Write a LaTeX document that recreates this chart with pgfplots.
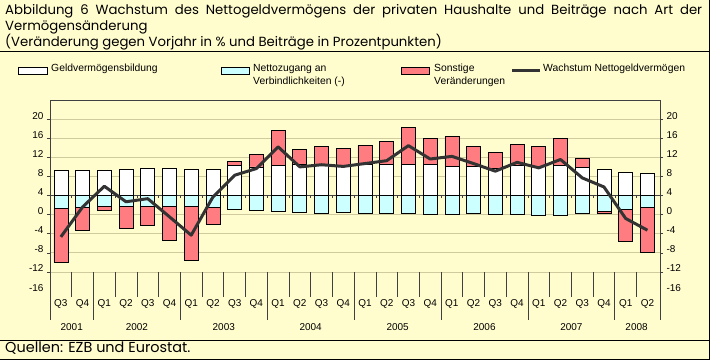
\documentclass[border=0pt]{standalone}
\usepackage{pgfplots}
\usepackage{pgfplotstable}
\pgfplotsset{compat=1.18}
\usepackage{fontspec}
\setmainfont{Liberation Sans}
\newfontfamily\titlefont{Poppins}
\definecolor{bg}{RGB}{255,253,206}
\definecolor{gridc}{RGB}{208,203,158}
\definecolor{redb}{RGB}{255,124,128}
\definecolor{cyanb}{RGB}{204,255,255}
\definecolor{lineg}{RGB}{51,51,51}
\definecolor{axisg}{RGB}{64,64,64}

% base = invisible offset; rn = Sonstige (negativ); cy = Nettozugang an Verbindlichkeiten (-);
% wh = Geldvermoegensbildung; rp = Sonstige (positiv); line = Wachstum
\pgfplotstableread{
i base rn cy wh rp line
0 -14.0 11.3 2.7 5.2 0 -8.65
1 -7.3 4.8 2.5 5.2 0 -2.4
2 -3.15 0.9 2.25 5.2 0 1.95
3 -6.9 4.6 2.3 5.45 0 -1.3
4 -6.3 4.0 2.3 5.65 0 -0.65
5 -9.4 7.1 2.3 5.65 0 -4.45
6 -13.6 11.3 2.3 5.45 0 -8.3
7 -6.05 3.55 2.5 5.45 0 -0.3
8 -2.95 0 2.95 6.25 0.85 4.25
9 -3.15 0 3.15 6.0 2.6 5.65
10 -3.35 0 3.35 6.25 7.35 10.2
11 -3.55 0 3.55 6.45 3.15 6.0
12 -3.75 0 3.75 6.4 3.85 6.45
13 -3.55 0 3.55 6.3 3.5 6.1
14 -3.75 0 3.75 6.45 4.05 6.7
15 -3.75 0 3.75 6.45 4.85 7.3
16 -3.75 0 3.75 6.45 7.75 10.45
17 -3.95 0 3.95 6.45 5.45 7.65
18 -3.95 0 3.95 6.05 6.25 8.2
19 -3.75 0 3.75 6.05 4.2 6.7
20 -3.95 0 3.95 5.65 3.35 5.1
21 -3.95 0 3.95 6.25 4.45 6.95
22 -4.2 0 4.2 6.05 4.2 5.8
23 -4.2 0 4.2 6.25 5.65 7.55
24 -3.75 0 3.75 5.85 1.9 3.7
25 -3.75 0.4 3.35 5.45 0 1.8
26 -9.65 6.7 2.95 4.8 0 -4.8
27 -11.9 9.4 2.5 4.6 0 -7.25
}\data

\pgfplotsset{
  common/.style={
    at={(50bp,88bp)}, anchor=south west, scale only axis,
    width=610bp, height=172bp,
    xmin=-0.5, xmax=27.58, ymin=-16, ymax=20,
    axis line style={draw=none},
    ytick={-16,-12,...,16},
    yticklabels={-12,-8,-4,0,4,8,12,16,20},
    tick align=outside, major tick length=3bp,
    tick style={axisg, line width=0.6bp},
    ticklabel style={font=\fontsize{10}{12}\selectfont},
    yticklabel style={yshift=3.5bp},
    /pgf/number format/assume math mode=true,
    clip=false,
  }
}

\begin{document}
\begin{tikzpicture}
\useasboundingbox (0,0) rectangle (710bp,360bp);
\fill[bg] (0,0) rectangle (710bp,360bp);

\begin{axis}[common,
  ybar stacked, stack negative=on previous, bar width=14bp,
  ytick pos=left,
  ymajorgrids, grid style={gridc, line width=0.8bp},
  xtick={0,...,27},
  xticklabels={Q3,Q4,Q1,Q2,Q3,Q4,Q1,Q2,Q3,Q4,Q1,Q2,Q3,Q4,Q1,Q2,Q3,Q4,Q1,Q2,Q3,Q4,Q1,Q2,Q3,Q4,Q1,Q2},
  x tick style={draw=none},
  xticklabel style={anchor=base, yshift=-32bp},
]
\addplot[draw=none, fill=none] table[x=i,y=base]{\data};
\addplot[fill=redb, draw=black, line width=0.7bp] table[x=i,y=rn]{\data};
\addplot[fill=cyanb, draw=black, line width=0.7bp] table[x=i,y=cy]{\data};
\addplot[fill=white, draw=black, line width=0.7bp] table[x=i,y=wh]{\data};
\addplot[fill=redb, draw=black, line width=0.7bp] table[x=i,y=rp]{\data};

\draw[axisg, line width=0.8bp] (axis cs:-0.5,0) -- (axis cs:27.58,0);
\pgfplotsinvokeforeach{0.5,1.5,...,26.5}{
  \draw[axisg, line width=0.6bp] (axis cs:#1,0) -- ++(0pt,-2.5bp);
}
\pgfplotsinvokeforeach{0.5,2.5,3.5,4.5,6.5,7.5,8.5,10.5,11.5,12.5,14.5,15.5,16.5,18.5,19.5,20.5,22.5,23.5,24.5,26.5}{
  \draw[axisg, line width=0.7bp] (axis cs:#1,-16) -- ++(0pt,-25bp);
}
\pgfplotsinvokeforeach{1.5,5.5,9.5,13.5,17.5,21.5,25.5}{
  \draw[axisg, line width=0.8bp] (axis cs:#1,-16) -- ++(0pt,-48bp);
}
\node[anchor=base, font=\fontsize{10}{12}\selectfont, yshift=-58bp] at (axis cs:0.5,-16) {2001};
\node[anchor=base, font=\fontsize{10}{12}\selectfont, yshift=-58bp] at (axis cs:3.5,-16) {2002};
\node[anchor=base, font=\fontsize{10}{12}\selectfont, yshift=-58bp] at (axis cs:7.5,-16) {2003};
\node[anchor=base, font=\fontsize{10}{12}\selectfont, yshift=-58bp] at (axis cs:11.5,-16) {2004};
\node[anchor=base, font=\fontsize{10}{12}\selectfont, yshift=-58bp] at (axis cs:15.5,-16) {2005};
\node[anchor=base, font=\fontsize{10}{12}\selectfont, yshift=-58bp] at (axis cs:19.5,-16) {2006};
\node[anchor=base, font=\fontsize{10}{12}\selectfont, yshift=-58bp] at (axis cs:23.5,-16) {2007};
\node[anchor=base, font=\fontsize{10}{12}\selectfont, yshift=-58bp] at (axis cs:26.5,-16) {2008};
\node[anchor=east, font=\fontsize{10}{12}\selectfont, xshift=-3bp, yshift=3.5bp] at (axis cs:-0.5,-20) {-16};
\node[anchor=west, font=\fontsize{10}{12}\selectfont, xshift=3bp, yshift=3.5bp] at (axis cs:27.58,-20) {-16};
\end{axis}

\begin{axis}[common,
  ytick pos=right, yticklabel pos=right,
  xtick=\empty,
]
\addplot[lineg, line width=3bp, line join=round, mark=none] table[x=i,y=line]{\data};
\end{axis}

% frame of plot area
\draw[axisg, line width=0.8bp] (50bp,40bp) -- (50bp,260bp) -- (660bp,260bp) -- (660bp,40bp);

% rules and borders
\draw[black, line width=1bp] (0,308bp) -- (710bp,308bp);
\draw[black, line width=1bp] (0,19bp) -- (710bp,19bp);
\draw[black, line width=1bp] (709.5bp,0) -- (709.5bp,360bp);
\draw[black, line width=1bp] (0,0.5bp) -- (710bp,0.5bp);

% legend
\draw[black, line width=0.7bp, fill=white] (18bp,286bp) rectangle (47bp,293bp);
\draw[black, line width=0.7bp, fill=cyanb] (221bp,286bp) rectangle (249bp,293bp);
\draw[black, line width=0.7bp, fill=redb] (401bp,286bp) rectangle (429bp,293bp);
\draw[lineg, line width=3bp] (512bp,289.5bp) -- (540bp,289.5bp);
\begin{scope}[every node/.style={anchor=base west, inner sep=0pt, font=\fontsize{10.4}{12}\selectfont}]
\node at (51bp,288bp) {Geldvermögensbildung};
\node at (253bp,288bp) {Nettozugang an};
\node at (253bp,275bp) {Verbindlichkeiten (-)};
\node at (434bp,288bp) {Sonstige};
\node at (434bp,275bp) {Veränderungen};
\node at (543bp,288bp) {Wachstum Nettogeldvermögen};
\end{scope}

% titles
\begin{scope}[every node/.style={anchor=base west, inner sep=0pt, font=\titlefont\fontsize{13.3}{15}\selectfont}]
\node at (5bp,345bp) {\makebox[697bp][s]{Abbildung 6 Wachstum des Nettogeldvermögens der privaten Haushalte und Beiträge nach Art der}};
\node at (5bp,329bp) {Vermögensänderung};
\node at (5bp,313.5bp) {(Veränderung gegen Vorjahr in \% und Beiträge in Prozentpunkten)};
\node[font=\titlefont\fontsize{14.5}{16}\selectfont] at (5bp,7.5bp) {Quellen: EZB und Eurostat.};
\end{scope}
\end{tikzpicture}
\end{document}
